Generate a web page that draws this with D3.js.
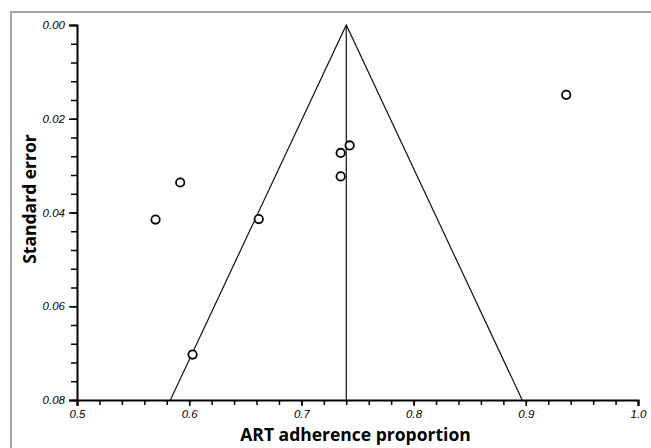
<!DOCTYPE html>
<html>
<head>
<meta charset="utf-8">
<script src="https://cdn.jsdelivr.net/npm/d3@7"></script>
<style>
  body { margin: 0; background: #fff; }
  svg { display: block; }
</style>
</head>
<body>
<div id="chart"></div>
<script>
// study estimates
var proportion = [0.570, 0.592, 0.603, 0.662, 0.735, 0.743, 0.735, 0.936];
var stdError   = [0.0415, 0.0336, 0.0703, 0.0414, 0.0273, 0.0257, 0.0323, 0.0149];
var pooled = 0.740;
var xTicks = [0.5, 0.6, 0.7, 0.8, 0.9, 1.0];
var yTicks = [0.00, 0.02, 0.04, 0.06, 0.08];

var W = 651, H = 448;
var svg = d3.select("#chart").append("svg")
  .attr("width", W).attr("height", H);

// outer frame (only top and left edges visible)
svg.append("rect")
  .attr("x", 11).attr("y", 12)
  .attr("width", W + 20).attr("height", H + 20)
  .attr("fill", "none").attr("stroke", "#8a8a8a").attr("stroke-width", 1.5);

var x = d3.scaleLinear().domain([0.5, 1.0]).range([77, 638]);
var y = d3.scaleLinear().domain([0, 0.08]).range([25, 400]);

// minor ticks
var xMinor = d3.range(0.5, 1.0001, 0.02);
var yMinor = d3.range(0, 0.08001, 0.004);

svg.append("g")
  .attr("transform", "translate(0," + y(0.08) + ")")
  .call(d3.axisBottom(x).tickValues(xMinor).tickSize(5).tickFormat(""))
  .call(function(g) { g.select(".domain").remove(); })
  .selectAll("line").attr("stroke", "#000").attr("stroke-width", 1.5);

svg.append("g")
  .attr("transform", "translate(" + x(0.5) + ",0)")
  .call(d3.axisLeft(y).tickValues(yMinor).tickSize(6).tickFormat(""))
  .call(function(g) { g.select(".domain").remove(); })
  .selectAll("line").attr("stroke", "#000").attr("stroke-width", 1.5);

// major axes
var xAxis = svg.append("g")
  .attr("transform", "translate(0," + y(0.08) + ")")
  .call(d3.axisBottom(x).tickValues(xTicks).tickSize(6).tickPadding(4)
    .tickFormat(d3.format(".1f")));
var yAxis = svg.append("g")
  .attr("transform", "translate(" + x(0.5) + ",0)")
  .call(d3.axisLeft(y).tickValues(yTicks).tickSize(8).tickPadding(4)
    .tickFormat(d3.format(".2f")));

[xAxis, yAxis].forEach(function(g) {
  g.select(".domain").attr("stroke", "#000").attr("stroke-width", 2);
  g.selectAll("line").attr("stroke", "#000").attr("stroke-width", 1.5);
  g.selectAll("text")
    .attr("fill", "#000")
    .style("font-family", "'Liberation Sans', Arial, sans-serif")
    .style("font-style", "italic")
    .style("font-size", "11.5px");
});

// pseudo 95% confidence funnel
var seMax = 0.08;
var funnel = [
  [pooled - 1.96 * seMax, seMax],
  [pooled, 0],
  [pooled + 1.96 * seMax, seMax]
];
svg.append("path")
  .attr("d", d3.line().x(function(d) { return x(d[0]); }).y(function(d) { return y(d[1]); })(funnel))
  .attr("fill", "none").attr("stroke", "#111").attr("stroke-width", 1.2);

svg.append("line")
  .attr("x1", x(pooled)).attr("x2", x(pooled))
  .attr("y1", y(0)).attr("y2", y(seMax))
  .attr("stroke", "#111").attr("stroke-width", 1.2);

// studies
svg.selectAll("circle.study")
  .data(proportion.map(function(p, i) { return {p: p, se: stdError[i]}; }))
  .enter().append("circle")
  .attr("class", "study")
  .attr("cx", function(d) { return x(d.p); })
  .attr("cy", function(d) { return y(d.se); })
  .attr("r", 4.2)
  .attr("fill", "#fff")
  .attr("stroke", "#000")
  .attr("stroke-width", 1.8);

// axis titles
svg.append("text")
  .attr("x", (x(0.5) + x(1.0)) / 2 - 2)
  .attr("y", 441)
  .attr("text-anchor", "middle")
  .style("font-family", "'Open Sans', sans-serif")
  .style("font-weight", "bold")
  .style("font-size", "17.5px")
  .text("ART adherence proportion");

svg.append("text")
  .attr("transform", "translate(36," + 199 + ") rotate(-90)")
  .attr("text-anchor", "middle")
  .style("font-family", "'Open Sans', sans-serif")
  .style("font-weight", "bold")
  .style("font-size", "17.5px")
  .text("Standard error");
</script>
</body>
</html>
